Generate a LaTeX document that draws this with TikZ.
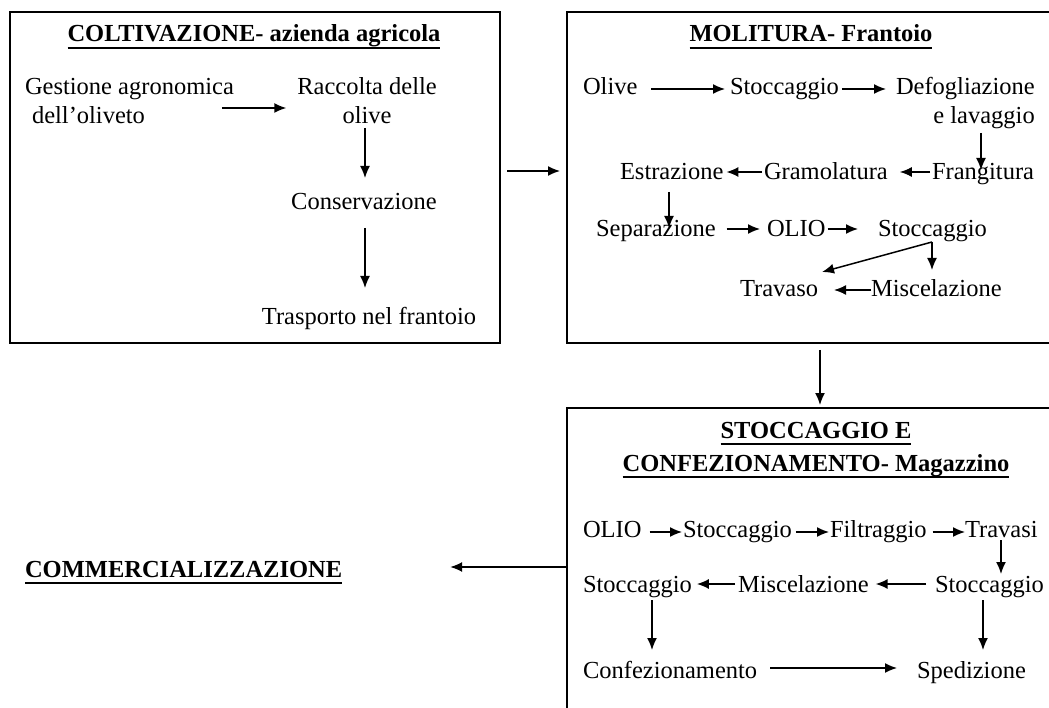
\documentclass[tikz,border=0pt]{standalone}
\usepackage{fontspec}
\setmainfont{Liberation Serif}
\usetikzlibrary{arrows.meta,calc}
\newcommand\myul[1]{\leavevmode\setbox0=\hbox{#1}\rlap{\copy0}\raisebox{-7pt}[0pt][0pt]{\rule{\wd0}{2.2pt}}}
\newcommand\twol[3]{\begin{tabular}[t]{@{}#1@{}}#2\\#3\end{tabular}}
\begin{document}
\begin{tikzpicture}[x=1pt,y=-1pt,
  txt/.style={inner sep=0pt,outer sep=0pt,font=\fontsize{24.5}{29}\selectfont},
  ttl/.style={txt,font=\fontsize{24.5}{33}\selectfont\bfseries},
  boxst/.style={draw,line width=1.6pt,inner sep=0pt,outer sep=0pt},
  arr/.style={-{Latex[length=12pt,width=10pt]},line width=1.5pt}]
\useasboundingbox (0,0) rectangle (1049,708);
\clip (0,0) rectangle (1049,708);
% boxes
\node[boxst,minimum width=490pt,minimum height=331pt] (B1) at (255,177.5) {};
\node[boxst,minimum width=508pt,minimum height=331pt] (B2) at (821,177.5) {};
\node[boxst,minimum width=508pt,minimum height=312pt] (B3) at (821,564) {};
% box 1
\node[ttl,anchor=base] (t1) at (254,42) {\myul{COLTIVAZIONE- azienda agricola}};
\node[txt,anchor=base west] (ges) at (25,95) {\twol{l}{Gestione agronomica}{\hspace{7pt}dell’oliveto}};
\node[txt,anchor=base] (rac) at (367,95) {\twol{c}{Raccolta delle}{olive}};
\node[txt,anchor=base] (cons) at (364,210) {Conservazione};
\node[txt,anchor=base] (tras) at (369,325) {Trasporto nel frantoio};
\draw[arr] ($(ges.base east)+(-12,13)$) -- ($(rac.base west)+(-11,13)$);
\draw[arr] ($(rac.base)+(-2,33)$) -- ($(cons.base)+(1,-32)$);
\draw[arr] ($(cons.base)+(1,18)$) -- ($(tras.base)+(-4,-37)$);
% box 2
\node[ttl,anchor=base] (t2) at (811,42) {\myul{MOLITURA- Frantoio}};
\node[txt,anchor=base west] (olive) at (583,95) {Olive};
\node[txt,anchor=base west] (stoA) at (730,95) {Stoccaggio};
\node[txt,anchor=base west] (defo) at (896,95) {\twol{r}{Defogliazione}{e lavaggio\hspace{-3pt}}};
\node[txt,anchor=base west] (fran) at (932,180) {Frangitura};
\node[txt,anchor=base west] (gram) at (764,180) {Gramolatura};
\node[txt,anchor=base west] (estr) at (620,180) {Estrazione};
\node[txt,anchor=base west] (sepa) at (596,237) {Separazione};
\node[txt,anchor=base west] (olio) at (767,237) {OLIO};
\node[txt,anchor=base west] (stoB) at (878,237) {Stoccaggio};
\node[txt,anchor=base west] (trav) at (740,297) {Travaso};
\node[txt,anchor=base west] (misc) at (871,297) {Miscelazione};
\draw[arr] ($(olive.base east)+(14,-6)$) -- ($(stoA.base west)+(-5,-6)$);
\draw[arr] ($(stoA.base east)+(3,-6)$) -- ($(defo.base west)+(-10,-6)$);
\draw[arr] ($(defo.base west)+(85,38)$) -- ($(fran.base west)+(49,-10)$);
\draw[arr] ($(fran.base west)+(-2,-8)$) -- ($(gram.base east)+(12,-8)$);
\draw[arr] ($(gram.base west)+(-2,-8)$) -- ($(estr.base east)+(3,-8)$);
\draw[arr] ($(estr.base west)+(49,12)$) -- ($(sepa.base west)+(73,-9)$);
\draw[arr] ($(sepa.base east)+(11,-8)$) -- ($(olio.base west)+(-7,-8)$);
\draw[arr] ($(olio.base east)+(2,-8)$) -- ($(stoB.base west)+(-20,-8)$);
\draw[arr] ($(stoB.base west)+(54,5)$) -- ($(trav.base east)+(4,-25)$);
\draw[arr] ($(stoB.base west)+(54,5)$) -- ($(misc.base west)+(61,-27)$);
\draw[arr] ($(misc.base west)+(0,-7)$) -- ($(trav.base east)+(16,-7)$);
% box 3
\node[ttl,anchor=base] (t3) at (816,438) {\twol{c}{\myul{STOCCAGGIO E}}{\myul{CONFEZIONAMENTO- Magazzino}}};
\node[txt,anchor=base west] (olio3) at (583,537) {OLIO};
\node[txt,anchor=base west] (stoC) at (683,537) {Stoccaggio};
\node[txt,anchor=base west] (filt) at (830,537) {Filtraggio};
\node[txt,anchor=base west] (travs) at (965,537) {Travasi};
\node[txt,anchor=base west] (stoD) at (935,592) {Stoccaggio};
\node[txt,anchor=base west] (misc3) at (738,592) {Miscelazione};
\node[txt,anchor=base west] (stoE) at (583,592) {Stoccaggio};
\node[txt,anchor=base west] (conf) at (583,678) {Confezionamento};
\node[txt,anchor=base west] (sped) at (917,678) {Spedizione};
\draw[arr] ($(olio3.base east)+(8,-5)$) -- ($(stoC.base west)+(-1,-5)$);
\draw[arr] ($(stoC.base east)+(4,-5)$) -- ($(filt.base west)+(-1,-5)$);
\draw[arr] ($(filt.base east)+(6,-5)$) -- ($(travs.base west)+(0,-5)$);
\draw[arr] ($(travs.base west)+(36,3)$) -- ($(stoD.base west)+(66,-18)$);
\draw[arr] ($(stoD.base west)+(-9,-8)$) -- ($(misc3.base east)+(7,-8)$);
\draw[arr] ($(misc3.base west)+(-3,-8)$) -- ($(stoE.base east)+(5,-8)$);
\draw[arr] ($(stoE.base west)+(69,8)$) -- ($(conf.base west)+(69,-28)$);
\draw[arr] ($(stoD.base west)+(48,8)$) -- ($(sped.base west)+(66,-28)$);
\draw[arr] ($(conf.base east)+(13,-10)$) -- ($(sped.base west)+(-20,-10)$);
% outside
\node[ttl,anchor=base west] (comm) at (25,577) {\myul{COMMERCIALIZZAZIONE}};
\draw[arr] ($(B1.east)+(7,-6.5)$) -- ($(B2.west)+(-7,-6.5)$);
\draw[arr] ($(B2.south)+(-1,7)$) -- ($(B3.north)+(-1,-3)$);
\draw[arr] ($(B3.west)+(0,3)$) -- ($(comm.base east)+(108,-10)$);
\end{tikzpicture}
\end{document}
